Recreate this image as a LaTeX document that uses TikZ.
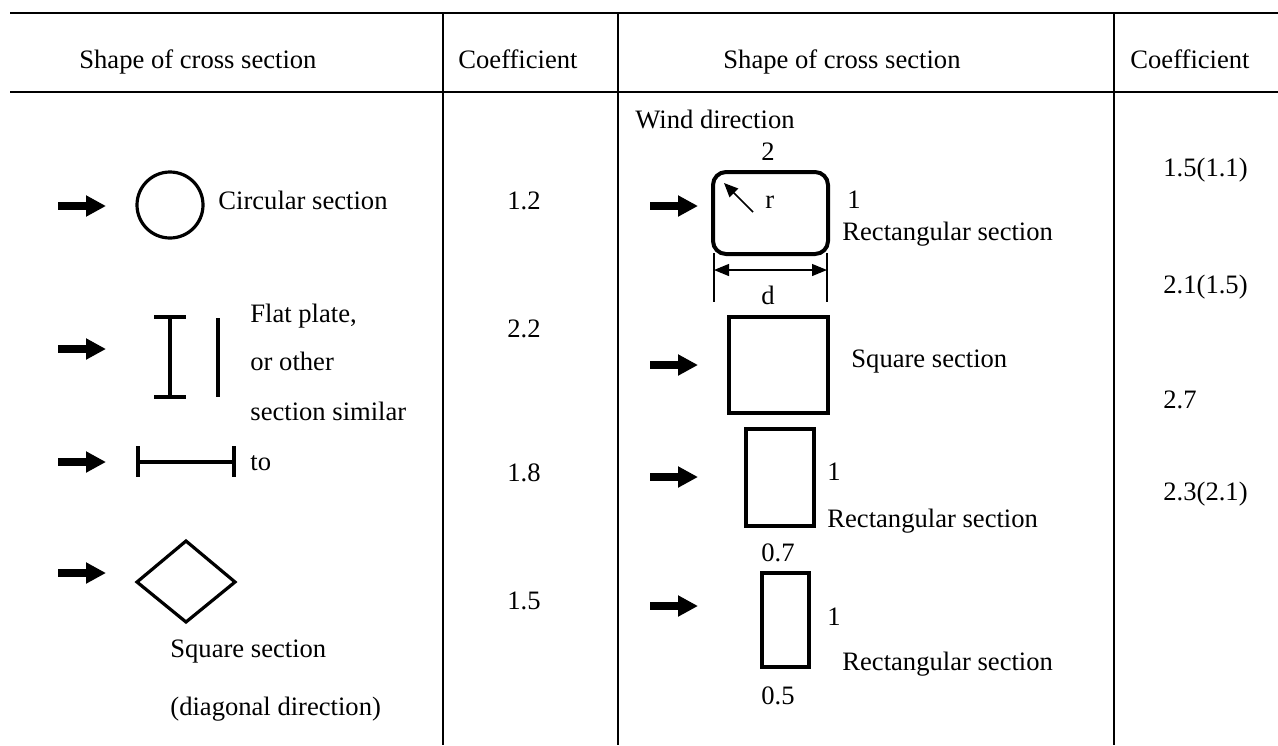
\documentclass[tikz,border=0pt]{standalone}
\usepackage{fontspec}
\setmainfont{Liberation Serif}
\usetikzlibrary{arrows.meta}
\begin{document}
\begin{tikzpicture}[x=0.5pt,y=-0.5pt,
  every node/.style={font=\fontsize{13.3}{16}\selectfont, inner sep=0pt},
  lbl/.style={anchor=base west},
  ctr/.style={anchor=base},
  rule/.style={line width=1.4pt},
  outline/.style={line width=1.6pt},
  heavy/.style={line width=2pt},
  wind/.style={line width=3.7pt, -{Triangle[length=10pt,width=10pt]}},
  thinline/.style={line width=0.6pt}]
\useasboundingbox (0,0) rectangle (1278,745);

% table rules
\draw[rule] (10,13) -- (1278,13);
\draw[rule] (10,92) -- (1278,92);
\draw[rule] (443,13) -- (443,745);
\draw[rule] (618,13) -- (618,745);
\draw[rule] (1114,13) -- (1114,745);

% header
\node[lbl] (h1) at (79,68) {Shape of cross section};
\node[lbl] (h2) at (458,68) {Coefficient};
\node[lbl] (h3) at (723,68) {Shape of cross section};
\node[lbl] (h4) at (1130,68) {Coefficient};

% ---- left half ----
% circular section
\draw[wind] (58,206) -- (106,206);
\draw[outline] (170,205) circle[radius=33];
\node[lbl] (circ) at (218,209) {Circular section};

% flat plate / I-section
\draw[wind] (58,349) -- (106,349);
\draw[outline] (170,317) -- (170,397)
             (154,317) -- (186,317)
             (154,397) -- (186,397);
\draw[outline] (218,318) -- (218,397);
\node[lbl] (fp1) at (250,322) {Flat plate,};
\node[lbl] (fp2) at (250,370) {or other};
\node[lbl] (fp3) at (250,420) {section similar};

% H-section lying flat
\draw[wind] (58,462) -- (106,462);
\draw[outline] (138,462) -- (234,462)
             (138,446) -- (138,477)
             (234,446) -- (234,477);
\node[lbl] (fp4) at (250,470) {to};

% square on its diagonal
\draw[wind] (58,573) -- (106,573);
\draw[outline, line join=miter] (137,582) -- (186,541) -- (235,582) -- (186,622) -- cycle;
\node[lbl] (sq1) at (170,657) {Square section};
\node[lbl] (sq2) at (170,715) {(diagonal direction)};

% left coefficients
\node[lbl] (c1) at (507,209) {1.2};
\node[lbl] (c2) at (507,337) {2.2};
\node[lbl] (c3) at (507,481) {1.8};
\node[lbl] (c4) at (507,609) {1.5};

% ---- right half ----
\node[lbl] (wd) at (635,128) {Wind direction};

% rounded rectangle 2 x 1
\draw[wind] (650,206) -- (698,206);
\draw[heavy, rounded corners=6.5pt] (713,172) rectangle (828,254);
\node[ctr] (two) at (768,160) {2};
\coordinate (rA) at (753,212);
\coordinate (rB) at (724,183);
\draw[line width=0.8pt, -{Triangle[length=7pt,width=6pt]}] (rA) -- (rB);
\node[lbl] (r) at (765,208) {r};
\node[lbl] (one1) at (847,208) {1};
\node[lbl] (rs1) at (842,240) {Rectangular section};
% dimension d
\coordinate (dL) at (714,270);
\coordinate (dR) at (827,270);
\draw[thinline] (714,253) -- (714,302) (827,253) -- (827,302);
\draw[thinline, {Triangle[length=7.5pt,width=6pt]}-{Triangle[length=7.5pt,width=6pt]}] (dL) -- (dR);
\node[ctr] (d) at (768,304) {d};

% square
\draw[wind] (650,365) -- (698,365);
\draw[heavy] (729,317) rectangle (828,413);
\node[lbl] (sqs) at (851,367) {Square section};

% rectangle 0.7 x 1
\draw[wind] (650,477) -- (698,477);
\draw[heavy] (746,429) rectangle (814,526);
\node[lbl] (one2) at (827,480) {1};
\node[lbl] (rs2) at (827,527) {Rectangular section};
\node[ctr] (w07) at (778,561) {0.7};

% rectangle 0.5 x 1
\draw[wind] (650,606) -- (698,606);
\draw[heavy] (762,573) rectangle (809,667);
\node[lbl] (one3) at (827,625) {1};
\node[lbl] (rs3) at (842,670) {Rectangular section};
\node[ctr] (w05) at (778,704) {0.5};

% right coefficients
\node[lbl] (k1) at (1163,176) {1.5(1.1)};
\node[lbl] (k2) at (1163,293) {2.1(1.5)};
\node[lbl] (k3) at (1163,408) {2.7};
\node[lbl] (k4) at (1163,500) {2.3(2.1)};
\end{tikzpicture}
\end{document}
